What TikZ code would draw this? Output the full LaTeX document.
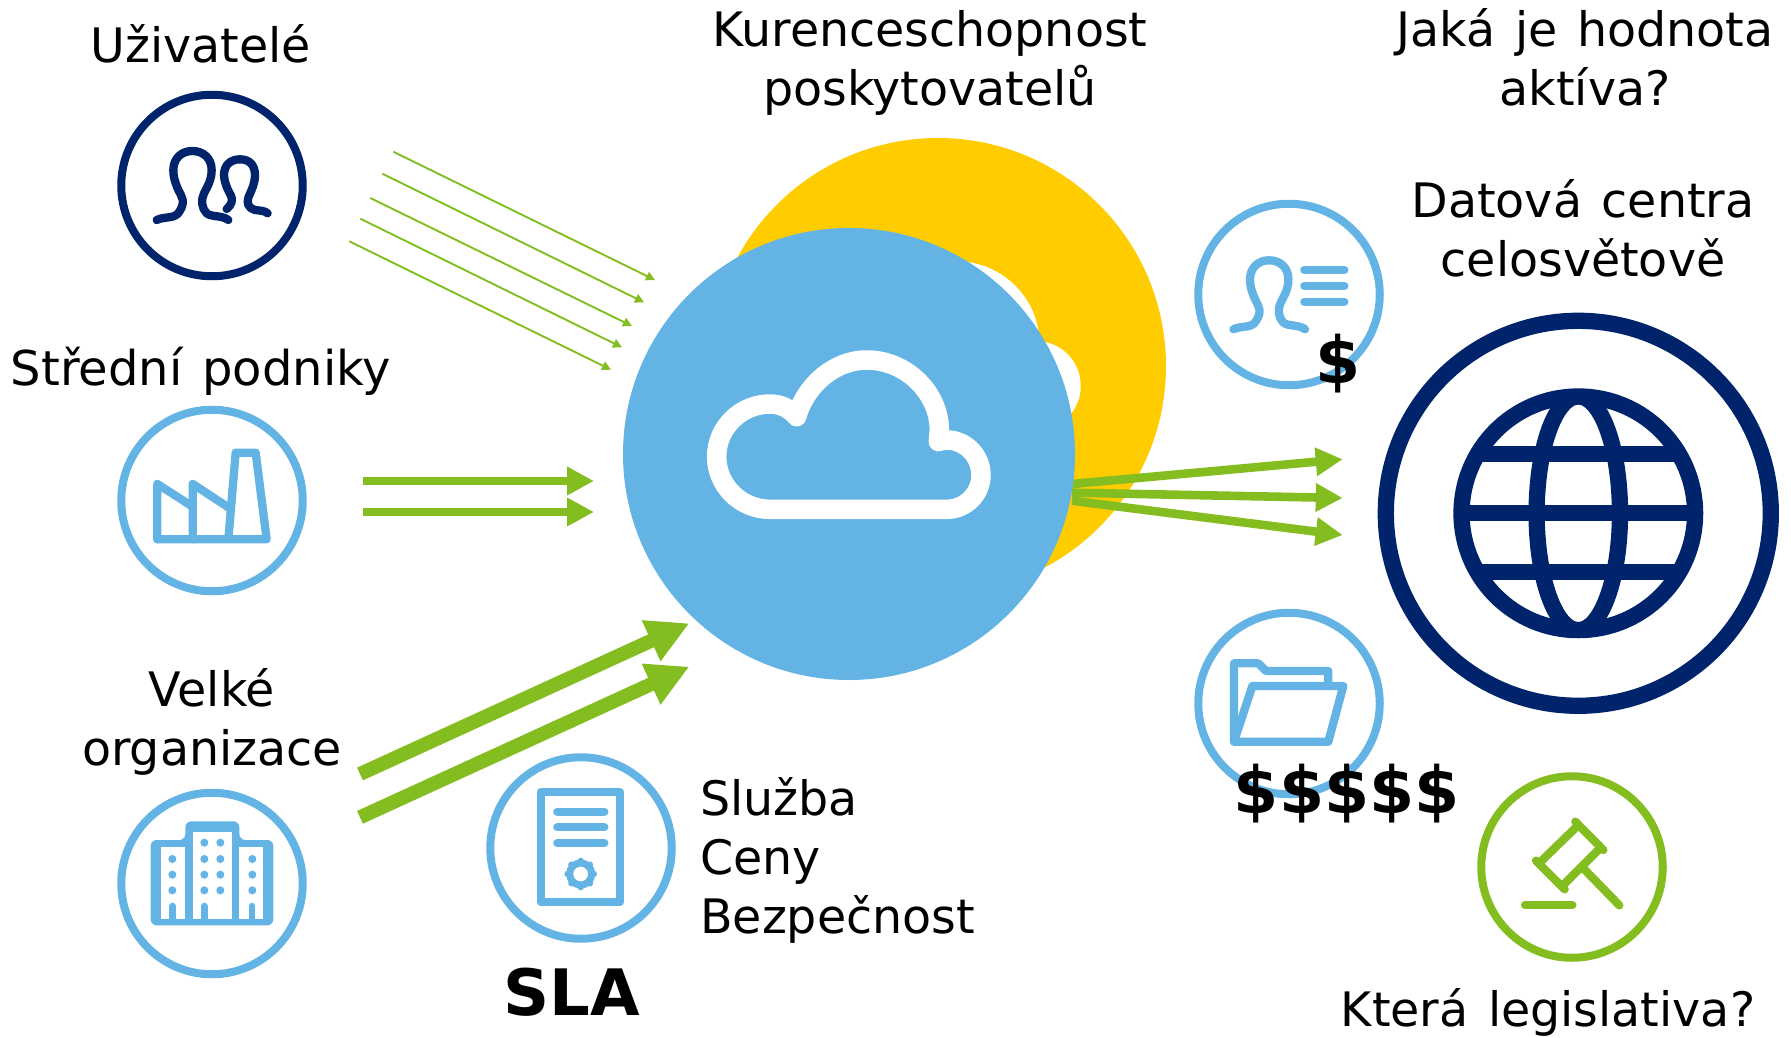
\documentclass[tikz,border=0pt]{standalone}
\usepackage{fontspec}
\setmainfont[WordSpace=1.3]{DejaVu Sans}
\usetikzlibrary{arrows.meta}
\definecolor{navy}{HTML}{00246B}
\definecolor{sky}{HTML}{63B4E5}
\definecolor{grass}{HTML}{84BD20}
\definecolor{sun}{HTML}{FFCC00}
\newcommand{\cloudshape}{(350,590) .. controls (330,565) and (300,552) .. (270,552)
 .. controls (182,552) and (110,623) .. (110,710)
 .. controls (110,797) and (182,868) .. (270,868) -- (800,868)
 .. controls (857,868) and (903,822) .. (903,765)
 .. controls (903,708) and (857,660) .. (800,660)
 .. controls (790,660) and (780,662) .. (775,665)
 -- (778,630) .. controls (778,520) and (680,420) .. (560,420)
 .. controls (460,420) and (375,500) .. (350,590) -- cycle}
\newcommand{\headshape}{(170,420) .. controls (195,408) and (225,418) .. (238,395)
 .. controls (258,365) and (245,350) .. (235,330)
 .. controls (222,300) and (220,285) .. (220,270)
 .. controls (220,235) and (245,213) .. (277,213)
 .. controls (310,213) and (335,235) .. (335,270)
 .. controls (335,300) and (322,320) .. (312,340)
 .. controls (302,360) and (305,385) .. (320,400)
 .. controls (335,412) and (365,405) .. (385,420)}
\tikzset{
  x=1pt,y=-1pt,
  ring/.style={circle,draw=#1,line width=8pt,minimum size=181.5pt,inner sep=0pt,outer sep=0pt,fill=white},
  icon/.style={draw=#1,line width=8.3pt,line cap=round,line join=round},
  label/.style={font=\fontsize{47.5}{59}\selectfont,anchor=base,align=center,text=black,inner sep=0pt},
  money/.style={font=\fontsize{65}{65}\selectfont\bfseries,anchor=base,text=black,inner sep=0pt},
  thinarrow/.style={draw=grass,line width=1.9pt,-{Triangle[length=9pt,width=9pt]}},
  midarrow/.style={draw=grass,line width=8.6pt,-{Triangle[length=27pt,width=27pt]}},
  bigarrow/.style={draw=grass,line width=14pt,-{Triangle[length=42pt,width=42pt]}},
}
\begin{document}
\begin{tikzpicture}
\useasboundingbox (0,0) rectangle (1791,1038);
% arrow ends
\foreach \n/\xa/\ya/\xb/\yb in {t1/393.3/151.7/655/280,t2/382.3/173.7/644/302.3,t3/370.3/198/632/326,t4/360.3/218.7/622/347.3,t5/349.3/241.3/611/369.7,
 m1/363/481/594/481,m2/363/512/594/512,
 b1/360/774/689.3/623.3,b2/360/817.3/689.3/666.7,
 r1/1072/484/1342.7/459.3,r2/1072/492.7/1342.7/498,r3/1072/500.7/1342.7/535}{
  \coordinate (\n s) at (\xa,\ya);
  \coordinate (\n e) at (\xb,\yb);
}
% thin and middle arrows
\foreach \n in {t1,t2,t3,t4,t5} \draw[thinarrow] (\n s) -- (\n e);
\foreach \n in {m1,m2} \draw[midarrow] (\n s) -- (\n e);
% rival cloud
\node[circle,fill=sun,minimum size=456pt,inner sep=0pt,outer sep=0pt] (rival) at (938,366) {};
\begin{scope}[shift={(770,131)},scale=1/3]
 \draw[white,line width=19.5pt,line cap=round,line join=round] \cloudshape;
\end{scope}
\foreach \n in {r1,r2,r3} \draw[midarrow] (\n s) -- (\n e);
% main cloud
\node[circle,fill=sky,minimum size=452pt,inner sep=0pt,outer sep=0pt] (main) at (849,454) {};
\begin{scope}[shift={(680,220)},scale=1/3]
 \draw[white,line width=19.5pt,line cap=round,line join=round] \cloudshape;
\end{scope}
\foreach \n in {b1,b2} \draw[bigarrow] (\n s) -- (\n e);
% users
\node[ring=navy] (users) at (212,185.5) {};
\begin{scope}[shift={(100,80)},scale=1/3]
 \draw[icon=navy] \headshape;
 \draw[icon=navy] (380,387) .. controls (395,375) and (400,360) .. (392,345)
  .. controls (380,325) and (372,300) .. (372,285)
  .. controls (372,255) and (392,238) .. (420,238)
  .. controls (448,238) and (465,255) .. (465,285)
  .. controls (465,310) and (455,330) .. (446,350)
  .. controls (438,368) and (445,385) .. (465,390)
  .. controls (480,392) and (495,392) .. (503,400);
\end{scope}
% factory
\node[ring=sky] (factory) at (212,500.5) {};
\begin{scope}[shift={(100,400)},scale=1/3]
 \draw[icon=sky] (172,418) -- (172,252) -- (278,320);
 \draw[icon=sky] (278,418) -- (278,252) -- (385,322);
 \draw[icon=sky] (172,418) -- (500,418) -- (467,158) -- (407,158) -- (385,418);
\end{scope}
% buildings
\node[ring=sky] (buildings) at (212,883.5) {};
\begin{scope}[shift={(100,780)},scale=1/3]
 \fill[sky,rounded corners=6pt] (152,180) -- (256,180) -- (256,124) -- (418,124) -- (418,180) -- (520,180) -- (520,436) -- (152,436) -- cycle;
 \fill[white] (184,200) rectangle (256,416);
 \fill[white] (278,155) rectangle (396,416);
 \fill[white] (418,200) rectangle (489,416);
 \foreach \px in {217,457} \foreach \py in {237,284,331} \fill[sky] (\px,\py) circle [radius=12];
 \foreach \px in {313,361} \foreach \py in {188,237,284,331} \fill[sky] (\px,\py) circle [radius=12];
 \foreach \px in {218,313,456} \draw[sky,line width=6.5pt,line cap=round] (\px,378) -- (\px,420);
\end{scope}
% SLA
\node[ring=sky] (sla) at (581,848) {};
\begin{scope}[shift={(470,740)},scale=1/3]
 \draw[icon=sky] (214,156) rectangle (450,486);
 \foreach \py in {215,262,309} \draw[icon=sky] (262,\py) -- (403,\py);
 \draw[sky,line width=7pt] (332,402) circle [radius=33];
 \foreach \a in {0,45,...,315} \fill[sky] (332,402) ++(\a:39) circle [radius=10];
\end{scope}
% person
\node[ring=sky] (person) at (1289,294.5) {};
\begin{scope}[shift={(1176.7,189.3)},scale=1/3]
 \draw[icon=sky] \headshape;
\end{scope}
\begin{scope}[shift={(1180,190)},scale=1/3]
 \foreach \py in {240,288,335} \draw[icon=sky] (373,\py) -- (493,\py);
\end{scope}
% folder
\node[ring=sky] (folder) at (1289,703.5) {};
\begin{scope}[shift={(1180,600)},scale=1/3]
 \draw[icon=sky] (162,425) -- (162,190) -- (235,190) -- (258,213) -- (445,213) -- (445,258);
 \draw[icon=sky] (162,425) -- (217,258) -- (490,258) -- (445,425) -- cycle;
\end{scope}
% gavel
\node[ring=grass] (law) at (1572,867) {};
\begin{scope}[shift={(1470,770)},scale=1/3]
 \draw[icon=grass] (316,155) -- (400,240);
 \draw[icon=grass] (198,272) -- (284,358);
 \draw[icon=grass] (320,170) -- (212,275);
 \draw[icon=grass] (390,235) -- (280,345);
 \draw[icon=grass] (340,295) -- (448,406);
 \draw[icon=grass] (165,405) -- (307,405);
\end{scope}
% globe
\node[circle,draw=navy,line width=16.3pt,minimum size=385pt,inner sep=0pt,outer sep=0pt] (globe) at (1578.3,513.3) {};
\node[circle,draw=navy,line width=16.3pt,minimum size=233.6pt,inner sep=0pt,outer sep=0pt] (earth) at (1578.3,513.3) {};
\begin{scope}
 \clip (1578.3,513.3) circle [radius=117];
 \draw[navy,line width=16.3pt] (1578.3,513.3) ellipse [x radius=41.7,y radius=117];
 \foreach \dy in {-59,0,59} \draw[navy,line width=16.3pt] (1450,513.3+\dy) -- (1710,513.3+\dy);
\end{scope}
% text
\node[label] (tusers) at (201,63) {Uživatelé};
\node[label,font=\fontsize{48}{59}\selectfont] (tmedium) at (201,385) {Střední podniky};
\node[label] (tlarge) at (212,765) {Velké\\organizace};
\node[label] (tcomp) at (930,106) {Kurenceschopnost\\poskytovatelů};
\node[label] (tvalue) at (1585,106) {Jaká je hodnota\\aktíva?};
\node[label] (tdc) at (1583,276) {Datová centra\\celosvětově};
\node[label,align=left,anchor=base west] (tsla) at (700,933) {Služba\\Ceny\\Bezpečnost};
\node[label] (tlaw) at (1548,1026) {Která legislativa?};
\node[money,font=\fontsize{64}{64}\selectfont\bfseries] (tslab) at (572,1015) {SLA};
\node[money] (tone) at (1338,383) {\$};
\node[money] (tfive) at (1347,813) {\$\$\$\$\$};
\end{tikzpicture}
\end{document}
